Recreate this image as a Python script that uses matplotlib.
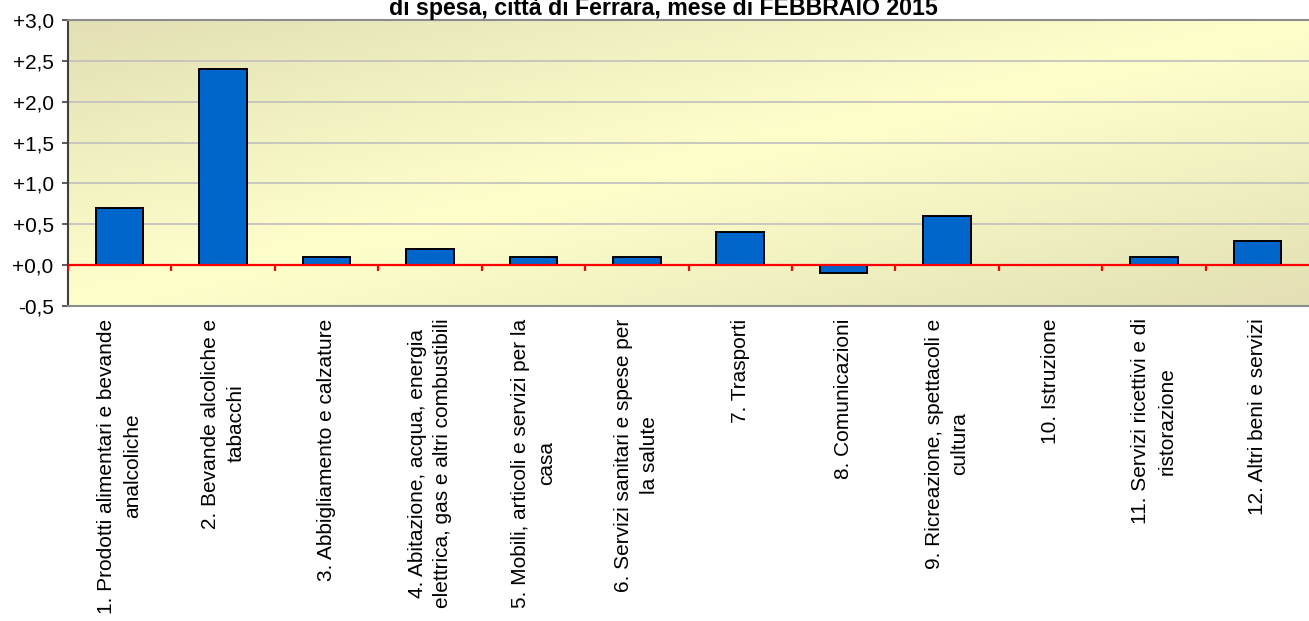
import numpy as np
import matplotlib
matplotlib.use('Agg')
import matplotlib.pyplot as plt
from matplotlib.colors import LinearSegmentedColormap

plt.rcParams['font.family'] = ['Liberation Sans', 'DejaVu Sans']

categorie = ['1. Prodotti alimentari e bevande\nanalcoliche',
             '2. Bevande alcoliche e\ntabacchi',
             '3. Abbigliamento e calzature',
             '4. Abitazione, acqua, energia\nelettrica, gas e altri combustibili',
             '5. Mobili, articoli e servizi per la\ncasa',
             '6. Servizi sanitari e spese per\nla salute',
             '7. Trasporti',
             '8. Comunicazioni',
             '9. Ricreazione, spettacoli e\ncultura',
             '10. Istruzione',
             '11. Servizi ricettivi e di\nristorazione',
             '12. Altri beni e servizi']
variazioni = [0.7, 2.4, 0.1, 0.2, 0.1, 0.1, 0.4, -0.1, 0.6, 0.0, 0.1, 0.3]
yticks = [-0.5, 0.0, 0.5, 1.0, 1.5, 2.0, 2.5, 3.0]
titolo = 'di spesa, città di Ferrara, mese di FEBBRAIO 2015'

W, H = 1309, 621
fig = plt.figure(figsize=(W/100, H/100), dpi=100)
ax = fig.add_axes([68/W, 1-306/H, (W-68)/W, 286/H])

# sfondo sfumato in diagonale
n = len(categorie)
ax.set_xlim(-0.5, n-0.5)
ax.set_ylim(-0.5, 3.0)
gx, gy = np.meshgrid(np.linspace(0, 1, 300), np.linspace(1, 0, 100))
t = (gx + (1-gy)) / 2
grad = np.abs(t - 0.5) * 2
cmap = LinearSegmentedColormap.from_list('bg', ['#FFFFCC', '#E2E0B4'])
ax.imshow(grad, cmap=cmap, extent=[0, 1, 0, 1], transform=ax.transAxes,
          aspect='auto', zorder=0, vmin=0, vmax=1)

for yv in yticks[1:]:
    ax.axhline(yv, color='#BFBFBF', lw=1.2, zorder=1)

x = np.arange(n)
ax.bar(x, variazioni, width=0.46, color='#0066CC', edgecolor='black',
       linewidth=1.4, zorder=3)

ax.axhline(0, color='red', lw=1.6, zorder=4)
bordi = np.arange(n) - 0.5
ax.vlines(bordi, -0.075, 0, color='red', lw=1.6, zorder=4)

ax.set_yticks(yticks)
ax.set_yticklabels([('%+.1f' % v).replace('.', ',') if v != 0 else '+0,0'
                    for v in yticks])
ax.tick_params(axis='y', labelsize=15, length=4.3, width=1.2,
               color='#404040', pad=6)
ax.set_xticks(x)
ax.set_xticklabels(categorie, rotation=90, ha='center', va='top',
                   multialignment='center', fontsize=15, linespacing=1.45)
ax.tick_params(axis='x', length=0, pad=9)

ax.spines['left'].set_color('#404040')
ax.spines['left'].set_linewidth(1.5)
for s in ['top', 'bottom']:
    ax.spines[s].set_color('#8C8C8C')
    ax.spines[s].set_linewidth(1.5)
ax.spines['right'].set_visible(False)

fig.text(663/W, 1-15/H, titolo, ha='center', va='baseline',
         fontsize=16.7, fontweight='bold')

fig.savefig('out.png', dpi=100)
